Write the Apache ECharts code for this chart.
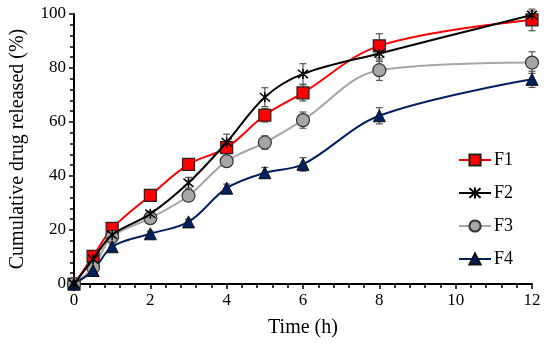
<!DOCTYPE html>
<html><head><meta charset="utf-8">
<script src="https://cdn.jsdelivr.net/npm/echarts@6/dist/echarts.min.js"></script>
<style>html,body{margin:0;padding:0;background:#fff}#c{width:550px;height:343px}</style>
</head><body><div id="c"></div>
<script>
var times = [0, 0.5, 1, 2, 3, 4, 5, 6, 8, 12];
var f1 = [0, 10.2, 20.6, 32.8, 44.3, 50.5, 62.5, 70.8, 88.2, 97.8];
var f2 = [0, 9.2, 18.2, 26, 37.5, 52.5, 69.2, 77.8, 85.4, 99.6];
var f3 = [0, 6.2, 17.5, 24.4, 32.7, 45.5, 52.4, 60.7, 79.2, 82];
var f4 = [0, 5, 13.8, 18.6, 23, 35.5, 41.2, 44.3, 62.3, 75.8];
var e1 = [0, 1, 1.2, 1, 1.5, 2, 2.5, 3, 4.5, 4];
var e2 = [0, 1, 1, 1, 2, 3, 3.5, 3.8, 3, 1.5];
var e3 = [0, 1, 1, 1, 1.5, 1.5, 2.5, 3, 3.8, 4];
var e4 = [0, 0.8, 1, 1, 1, 1.5, 2, 2.5, 3, 3];
var names = ['F1', 'F2', 'F3', 'F4'];

var serif = 'Liberation Serif, Times New Roman, serif';
function pairs(v){ return times.map(function(t,i){ return [t, v[i]]; }); }
function errData(v,e){ return times.map(function(t,i){ return [t, v[i], e[i]]; }); }

function errSeries(v, e){
  return {
    type: 'custom', silent: true, z: 1,
    data: errData(v, e),
    renderItem: function(params, api){
      var x = api.value(0), y = api.value(1), er = api.value(2);
      if (!er) return null;
      var top = api.coord([x, y + er]);
      var bot = api.coord([x, y - er]);
      var w = 3.5;
      var st = {stroke: '#555', lineWidth: 1.2};
      return {type: 'group', children: [
        {type: 'line', shape: {x1: top[0], y1: top[1], x2: bot[0], y2: bot[1]}, style: st},
        {type: 'line', shape: {x1: top[0]-w, y1: top[1], x2: top[0]+w, y2: top[1]}, style: st},
        {type: 'line', shape: {x1: bot[0]-w, y1: bot[1], x2: bot[0]+w, y2: bot[1]}, style: st}
      ]};
    }
  };
}

var star = 'path://M0,0L10,10M10,0L0,10M5,-1L5,11';
var chart = echarts.init(document.getElementById('c'));
chart.setOption({
  animation: false,
  grid: {left: 73, right: 18, top: 14, bottom: 59},
  xAxis: {
    type: 'value', min: 0, max: 12, interval: 2,
    name: 'Time (h)', nameLocation: 'middle', nameGap: 34,
    nameTextStyle: {fontFamily: serif, fontSize: 20, color: '#000'},
    axisLine: {lineStyle: {color: '#000', width: 2}},
    axisTick: {show: true, length: 5, lineStyle: {color: '#000', width: 1.5}},
    minorTick: {show: true, splitNumber: 5, length: 4, lineStyle: {color: '#000', width: 1.5}},
    axisLabel: {fontFamily: serif, fontSize: 17, color: '#000', margin: 8},
    splitLine: {show: false}
  },
  yAxis: {
    type: 'value', min: 0, max: 100, interval: 20,
    name: 'Cumulative drug released (%)', nameLocation: 'middle', nameGap: 46,
    nameTextStyle: {fontFamily: serif, fontSize: 20, color: '#000'},
    axisLine: {show: true, lineStyle: {color: '#000', width: 2}},
    axisTick: {show: true, length: 5, lineStyle: {color: '#000', width: 1.5}},
    minorTick: {show: true, splitNumber: 5, length: 4, lineStyle: {color: '#000', width: 1.5}},
    axisLabel: {fontFamily: serif, fontSize: 17, color: '#000', margin: 8},
    splitLine: {show: false}
  },
  legend: {
    orient: 'vertical', left: 453, top: 146, itemGap: 15,
    itemWidth: 32, itemHeight: 14,
    data: names,
    textStyle: {fontFamily: serif, fontSize: 18, color: '#000', padding: [0,0,0,-2]}
  },
  series: [
    errSeries(f1, e1), errSeries(f2, e2), errSeries(f3, e3), errSeries(f4, e4),
    {name: 'F1', type: 'line', smooth: 0.35, z: 3, data: pairs(f1),
     symbol: 'rect', symbolSize: 12,
     lineStyle: {color: '#ff0000', width: 2},
     itemStyle: {color: '#ff0000', borderColor: '#222', borderWidth: 1.2}},
    {name: 'F2', type: 'line', smooth: 0.35, z: 4, data: pairs(f2),
     symbol: star, symbolSize: 10,
     lineStyle: {color: '#000', width: 2},
     itemStyle: {color: '#000', borderColor: '#000', borderWidth: 1.5}},
    {name: 'F3', type: 'line', smooth: 0.35, z: 3, data: pairs(f3),
     symbol: 'circle', symbolSize: 13,
     lineStyle: {color: '#a6a6a6', width: 2},
     itemStyle: {color: '#a6a6a6', borderColor: '#333', borderWidth: 1.2}},
    {name: 'F4', type: 'line', smooth: 0.35, z: 3, data: pairs(f4),
     symbol: 'triangle', symbolSize: 12,
     lineStyle: {color: '#002060', width: 2},
     itemStyle: {color: '#002060', borderColor: '#111', borderWidth: 1}}
  ]
});
</script></body></html>
